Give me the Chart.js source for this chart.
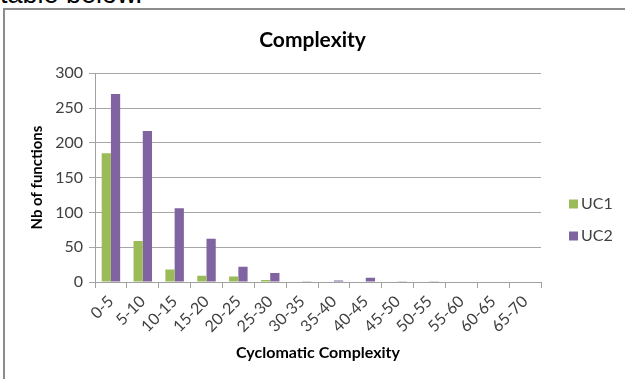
<!DOCTYPE html>
<html>
<head>
<meta charset="utf-8">
<script src="https://cdn.jsdelivr.net/npm/chart.js@4/dist/chart.umd.min.js"></script>
<style>
  html, body { margin:0; padding:0; background:#fff; }
  body { width:625px; height:379px; position:relative; overflow:hidden; }
  #lead { position:absolute; left:0; top:-19px; font:27px "Liberation Sans", Arial, sans-serif; line-height:27px; color:#000; white-space:nowrap; }
  #frame { position:absolute; left:3px; top:8px; width:700px; height:500px; border:2px solid #8c8c8c; }
  #wrap { position:absolute; left:0; top:0; width:625px; height:379px; }
</style>
</head>
<body>
<div id="lead">table below.</div>
<div id="frame"></div>
<div id="wrap"><canvas id="complexityChart"></canvas></div>
<script>
(function(){
  // data
  const categories = ['0-5','5-10','10-15','15-20','20-25','25-30','30-35','35-40','40-45','45-50','50-55','55-60','60-65','65-70'];
  const uc1 = [185, 59, 18, 9, 8, 3, 0, 0, 0, 0, 0, 0, 0, 0];
  const uc2 = [270, 217, 106, 62, 22, 13, 1, 2, 6, 1, 1, 0, 0, 0];
  const yTicks = [0, 50, 100, 150, 200, 250, 300];

  const GREEN = '#9bbb59', PURPLE = '#8064a2';
  const FONT = 'Lato, "Open Sans", sans-serif';

  // legend drawn by hand so it sits where the original puts it
  const sideLegend = {
    id: 'sideLegend',
    afterDraw(chart){
      const ctx = chart.ctx;
      ctx.save();
      ctx.font = '16px ' + FONT;
      ctx.textBaseline = 'middle';
      chart.data.datasets.forEach(function(ds, i){
        const y = 204 + i * 32;
        ctx.fillStyle = ds.backgroundColor;
        ctx.fillRect(569, y - 4.5, 9, 9);
        ctx.fillStyle = '#404040';
        ctx.fillText(ds.label, 581, y);
      });
      ctx.restore();
    }
  };

  new Chart(document.getElementById('complexityChart'), {
    type: 'bar',
    data: {
      labels: categories,
      datasets: [
        { label: 'UC1', data: uc1, backgroundColor: GREEN, categoryPercentage: 0.58, barPercentage: 1 },
        { label: 'UC2', data: uc2, backgroundColor: PURPLE, categoryPercentage: 0.58, barPercentage: 1 }
      ]
    },
    options: {
      responsive: true,
      maintainAspectRatio: false,
      animation: false,
      layout: { padding: { left: 0, right: 0, top: 0, bottom: 0 } },
      plugins: {
        legend: { display: false },
        tooltip: { enabled: false },
        title: {
          display: true, text: 'Complexity', color: '#000',
          font: { family: FONT, size: 21, weight: 'bold' },
          padding: { top: 28, bottom: 20 }
        }
      },
      scales: {
        x: {
          grid: { drawOnChartArea: false, drawTicks: true, tickLength: 6, color: '#a0a0a0', offset: true },
          border: { color: '#a0a0a0', width: 1 },
          ticks: { color: '#404040', font: { family: FONT, size: 16 }, autoSkip: false, padding: 4 },
          afterCalculateLabelRotation: function(scale){ scale.labelRotation = 45; },
          title: { display: true, text: 'Cyclomatic Complexity', color: '#000', font: { family: FONT, size: 16, weight: 'bold' }, padding: { top: 0, bottom: 17 } },
          afterFit: function(scale){ scale.height = 97; }
        },
        y: {
          min: 0, max: 300,
          afterBuildTicks: function(scale){ scale.ticks = yTicks.map(v => ({ value: v })); },
          grid: { color: '#a6a6a6', tickLength: 6, drawTicks: true },
          border: { color: '#a0a0a0', width: 1 },
          ticks: { color: '#404040', font: { family: FONT, size: 16 }, padding: 6 },
          title: { display: true, text: 'Nb of functions', color: '#000', font: { family: FONT, size: 15, weight: 'bold' }, padding: { top: 28, bottom: 0 } },
          afterFit: function(scale){ scale.width = 95; }
        },
        // empty right-hand box that leaves room for the legend
        side: {
          position: 'right', display: true,
          grid: { display: false }, border: { display: false },
          ticks: { display: false },
          afterFit: function(scale){ scale.width = 84; }
        }
      }
    },
    plugins: [sideLegend]
  });
})();
</script>
</body>
</html>
